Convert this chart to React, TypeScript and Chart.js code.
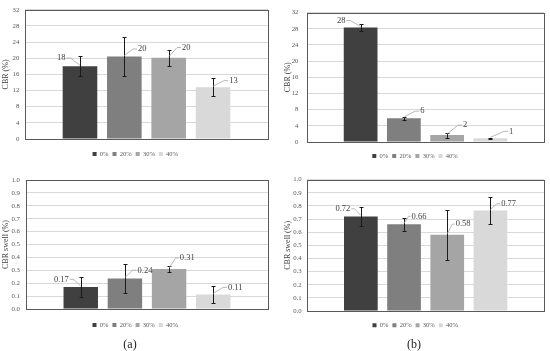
import React, { useEffect, useRef } from "react";
import { Chart, registerables } from "chart.js";

Chart.register(...registerables);
Chart.defaults.font.family = "'Liberation Serif', 'Times New Roman', serif";

// ---------- data ----------
const SERIES = ["0%", "20%", "30%", "40%"];
const CATEGORY = [""];

const cbrA = [18.0, 20.4, 20.1, 12.8];
const cbrAErr = [2.5, 4.9, 2.0, 2.2];
const cbrB = [28.3, 5.9, 1.7, 0.9];
const cbrBErr = [0.9, 0.4, 0.6, 0.1];
const swellA = [0.17, 0.236, 0.31, 0.113];
const swellAErr = [0.075, 0.115, 0.022, 0.067];
const swellB = [0.72, 0.66, 0.58, 0.766];
const swellBErr = [0.075, 0.05, 0.19, 0.105];

const cbrTicks = [0, 4, 8, 12, 16, 20, 24, 28, 32];
const swellTicks = [0, 0.1, 0.2, 0.3, 0.4, 0.5, 0.6, 0.7, 0.8, 0.9, 1.0];

// ---------- styles ----------
const COLORS = ["#404040", "#7f7f7f", "#a5a5a5", "#d9d9d9"];
const LEGEND_H = 20.5;

type Panel = {
  left: number; top: number; w: number; h: number;
  values: number[]; errs: number[]; ticks: number[];
  tickDec: number; labelDec: number; title: string;
  padL: number; padR: number; padT: number; yWidth: number;
  titlePad: number; tickPad: number; plotBottom: number; gx: number;
  labelPos: number[][];
};

const PANELS: Panel[] = [
  {
    left: 0, top: 0, w: 275, h: 170,
    values: cbrA, errs: cbrAErr, ticks: cbrTicks, tickDec: 0, labelDec: 0, title: "CBR (%)",
    padL: 2.6, padR: 7, padT: 6, yWidth: 22.4, titlePad: -1.3, tickPad: 5.7, plotBottom: 139, gx: 7.75,
    labelPos: [[-14.5, -8.3], [13.7, -7.6], [13.4, -10.3], [16.2, -6.7]],
  },
  {
    left: 275, top: 0, w: 275, h: 170,
    values: cbrB, errs: cbrBErr, ticks: cbrTicks, tickDec: 0, labelDec: 0, title: "CBR (%)",
    padL: 11, padR: 6, padT: 10, yWidth: 21, titlePad: -2.7, tickPad: 8.5, plotBottom: 142, gx: 6.75,
    labelPos: [[-15.2, -7], [16.3, -7], [15.9, -10], [18.6, -7]],
  },
  {
    left: 0, top: 170, w: 275, h: 170,
    values: swellA, errs: swellAErr, ticks: swellTicks, tickDec: 1, labelDec: 2, title: "CBR swell (%)",
    padL: 2.4, padR: 7, padT: 7, yWidth: 23.6, titlePad: -0.9, tickPad: 6, plotBottom: 139, gx: 8.75,
    labelPos: [[-12, -7.7], [12.6, -8.3], [10.7, -11], [14.7, -7]],
  },
  {
    left: 275, top: 170, w: 275, h: 170,
    values: swellB, errs: swellBErr, ticks: swellTicks, tickDec: 1, labelDec: 2, title: "CBR swell (%)",
    padL: 11.4, padR: 6, padT: 8, yWidth: 20.9, titlePad: -2.9, tickPad: 5.6, plotBottom: 141, gx: 7.05,
    labelPos: [[-10.5, -7.7], [7.5, -8], [8.5, -10.7], [10.8, -6.7]],
  },
];

// ---------- plugins ----------
const framePlugin = {
  id: "frame",
  afterDraw(chart: any) {
    const { ctx, chartArea: a } = chart;
    const l = Math.round(a.left), t = Math.round(a.top), r = Math.round(a.right), b = Math.round(a.bottom);
    ctx.save();
    ctx.strokeStyle = "#595959";
    ctx.lineWidth = 1;
    ctx.strokeRect(l + 0.5, t + 0.5, r - l, b - t);
    ctx.restore();
  },
};

const errorBarPlugin = {
  id: "errorBars",
  afterDatasetsDraw(chart: any, _args: any, opts: any) {
    const { ctx } = chart;
    const ys = chart.scales.y;
    ctx.save();
    ctx.strokeStyle = "#1a1a1a";
    ctx.lineWidth = 1;
    chart.data.datasets.forEach((ds: any, i: number) => {
      const bar = chart.getDatasetMeta(i).data[0];
      const v = ds.data[0];
      const e = opts.errors[i];
      const x = Math.round(bar.x) + 0.5;
      const y1 = Math.round(ys.getPixelForValue(v + e)) + 0.5;
      const y2 = Math.round(ys.getPixelForValue(v - e)) + 0.5;
      ctx.beginPath();
      ctx.moveTo(x, y1); ctx.lineTo(x, y2);
      ctx.moveTo(x - 2, y1); ctx.lineTo(x + 2, y1);
      ctx.moveTo(x - 2, y2); ctx.lineTo(x + 2, y2);
      ctx.stroke();
    });
    ctx.restore();
  },
};

const valueLabelPlugin = {
  id: "valueLabels",
  afterDatasetsDraw(chart: any, _args: any, opts: any) {
    const { ctx } = chart;
    ctx.save();
    chart.data.datasets.forEach((ds: any, i: number) => {
      const bar = chart.getDatasetMeta(i).data[0];
      const [dx, dy] = opts.pos[i];
      const sign = dx < 0 ? -1 : 1;
      const bx = bar.x, by = bar.y;
      const h = Math.min(5, Math.abs(dx) * 0.4);
      ctx.strokeStyle = "#a6a6a6";
      ctx.lineWidth = 0.8;
      ctx.beginPath();
      ctx.moveTo(bx, by - 1);
      ctx.lineTo(bx + dx - sign * h, by + dy);
      ctx.lineTo(bx + dx - sign * 1, by + dy);
      ctx.stroke();
      ctx.fillStyle = "#404040";
      ctx.font = "8.5px 'Liberation Serif', 'Times New Roman', serif";
      ctx.textBaseline = "middle";
      ctx.textAlign = sign < 0 ? "right" : "left";
      ctx.fillText(Number(ds.data[0]).toFixed(opts.dec), bx + dx, by + dy);
    });
    ctx.restore();
  },
};

function PanelChart({ p }: { p: Panel }) {
  const ref = useRef<HTMLCanvasElement | null>(null);
  useEffect(() => {
    if (!ref.current) return;
    const padB = p.h - (p.plotBottom + p.gx + LEGEND_H);
    const chart = new Chart(ref.current, {
      type: "bar",
      data: {
        labels: CATEGORY,
        datasets: SERIES.map((s, i) => ({
          label: s,
          data: [p.values[i]],
          backgroundColor: COLORS[i],
          borderWidth: 0,
          categoryPercentage: 0.73,
          barPercentage: 0.78,
        })),
      },
      options: {
        responsive: false,
        animation: false,
        devicePixelRatio: 1,
        layout: { padding: { left: p.padL, right: p.padR, top: p.padT, bottom: padB } },
        plugins: {
          legend: {
            position: "bottom",
            labels: { boxWidth: 4, boxHeight: 4, padding: 4, color: "#595959", font: { size: 6.5 } },
          },
          tooltip: { enabled: false },
          errorBars: { errors: p.errs },
          valueLabels: { pos: p.labelPos, dec: p.labelDec },
        } as any,
        scales: {
          x: {
            display: true,
            grid: { display: false, drawTicks: false },
            border: { display: false },
            ticks: { display: false },
            afterFit: (s: any) => { s.height = p.gx; },
          },
          y: {
            min: p.ticks[0],
            max: p.ticks[p.ticks.length - 1],
            afterBuildTicks: (s: any) => { s.ticks = p.ticks.map((v) => ({ value: v })); },
            ticks: {
              padding: p.tickPad,
              color: "#595959",
              font: { size: 6.8 },
              callback: (v: any) => Number(v).toFixed(p.tickDec),
            },
            grid: { color: "#d9d9d9", drawTicks: false, lineWidth: 1 },
            border: { display: false },
            title: {
              display: true,
              text: p.title,
              color: "#404040",
              font: { size: 8 },
              padding: { top: p.titlePad, bottom: 0 },
            },
            afterFit: (s: any) => { s.width = p.yWidth; },
          },
        },
      },
      plugins: [framePlugin, errorBarPlugin, valueLabelPlugin],
    });
    return () => chart.destroy();
  }, [p]);
  return (
    <canvas
      ref={ref}
      width={p.w}
      height={p.h}
      style={{ position: "absolute", left: p.left, top: p.top, width: p.w, height: p.h }}
    />
  );
}

export default function App() {
  const capStyle: React.CSSProperties = {
    position: "absolute",
    top: 336,
    width: 40,
    textAlign: "center",
    fontFamily: "'Liberation Serif', 'Times New Roman', serif",
    fontSize: 12,
    lineHeight: "16px",
    color: "#222",
  };
  return (
    <div style={{ position: "absolute", left: 0, top: 0, width: 550, height: 351, background: "#fff", overflow: "hidden" }}>
      {PANELS.map((p, i) => (
        <PanelChart key={i} p={p} />
      ))}
      <div style={{ ...capStyle, left: 130 - 20 }}>(a)</div>
      <div style={{ ...capStyle, left: 414 - 20 }}>(b)</div>
    </div>
  );
}
